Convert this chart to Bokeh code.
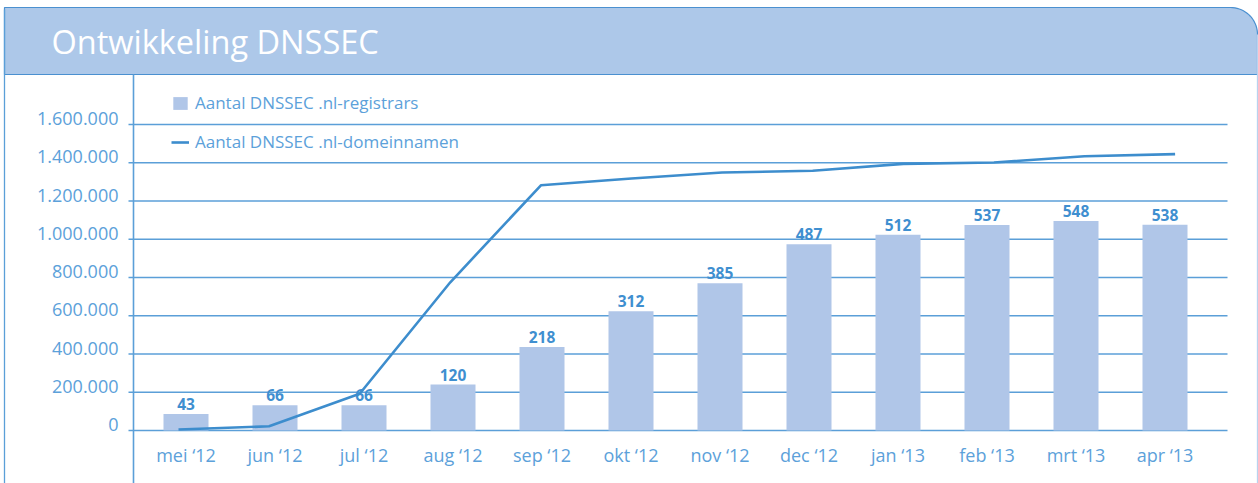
import numpy as np
from bokeh.plotting import figure
from bokeh.models import Range1d, ColumnDataSource, Legend, LegendItem
from bokeh.core.properties import value
from bokeh.embed import file_html
from bokeh.resources import INLINE

# ---------------- data ----------------
title = "Ontwikkeling DNSSEC"
months = ["mei \u201812", "jun \u201812", "jul \u201812", "aug \u201812", "sep \u201812", "okt \u201812",
          "nov \u201812", "dec \u201812", "jan \u201813", "feb \u201813", "mrt \u201813", "apr \u201813"]
registrars = [43, 66, 66, 120, 218, 312, 385, 487, 512, 537, 548, 538]
domeinnamen = [5000, 22000, 192000, 775000, 1282000, 1318000, 1349000, 1358000,
               1394000, 1401000, 1434000, 1445000]
y_ticks = [0, 200000, 400000, 600000, 800000, 1000000, 1200000, 1400000, 1600000]
y_tick_labels = ["0", "200.000", "400.000", "600.000", "800.000", "1.000.000",
                 "1.200.000", "1.400.000", "1.600.000"]
legend_labels = ["Aantal DNSSEC .nl-registrars", "Aantal DNSSEC .nl-domeinnamen"]
bar_scale = 2000  # registrars drawn at this factor of the domain-name axis

# ---------------- layout (pixels) ----------------
W, H = 1258, 483
Y0_PX, YMAX_PX = 430, 124
BAR_C0, BAR_STEP, BAR_W = 185.5, 89.0, 45.0
LINE_C0, LINE_STEP = 178.0, 90.6
GRID_X0, GRID_X1 = 128, 1227
AXIS_X = 133
BOX_L, BOX_R, BOX_T, HEAD_B, R = 4, 1257, 7, 74, 27

TEXT = "#5ca1da"
DARK = "#3f8fd0"
BAR = "#b0c6e8"
HEAD = "#adc8e9"
LINE = "#3d8dcd"
GRID = "#5b9fd8"
FONT = "Open Sans"

k = y_ticks[-1] / (Y0_PX - YMAX_PX)
y_lo, y_hi = -(H - Y0_PX) * k, Y0_PX * k

p = figure(width=W, height=H, output_backend="svg", toolbar_location=None,
           x_axis_type=None, y_axis_type=None, min_border=0,
           x_range=Range1d(-BAR_C0 / BAR_STEP, (W - BAR_C0) / BAR_STEP),
           y_range=Range1d(y_lo, y_hi))
p.outline_line_color = None
p.xgrid.visible = False
p.ygrid.visible = False
p.background_fill_color = "white"
p.border_fill_color = "white"
p.extra_x_ranges = {"px": Range1d(0, W),
                    "line": Range1d(-LINE_C0 / LINE_STEP, (W - LINE_C0) / LINE_STEP)}
p.extra_y_ranges = {"px": Range1d(H, 0),
                    "reg": Range1d(y_lo / bar_scale, y_hi / bar_scale)}

# header with rounded top-right corner
t = np.linspace(np.pi / 2, 0, 20)
hx = [BOX_L] + list(BOX_R - R + R * np.cos(t)) + [BOX_R, BOX_L]
hy = [BOX_T] + list(BOX_T + R - R * np.sin(t)) + [HEAD_B, HEAD_B]
p.patch(hx, hy, x_range_name="px", y_range_name="px",
        fill_color=HEAD, line_color="#4a90d0", line_width=1.2)
p.text(x=[51], y=[41], text=[title], x_range_name="px", y_range_name="px",
       text_font=value(FONT), text_font_size="32.5px", text_color="white",
       text_baseline="middle", text_align="left")

# frame lines
p.segment(x0=[BOX_L, BOX_R, AXIS_X], y0=[BOX_T + 2, BOX_T + R, HEAD_B],
          x1=[BOX_L, BOX_R, AXIS_X], y1=[H, H, H],
          x_range_name="px", y_range_name="px",
          line_color=[GRID, "#b9d3ee", GRID], line_width=[1.3, 1.3, 1.6])

# gridlines
p.segment(x0=[GRID_X0] * len(y_ticks), x1=[GRID_X1] * len(y_ticks), y0=y_ticks, y1=y_ticks,
          x_range_name="px", line_color=GRID, line_width=1.6)

# y tick labels
p.text(x=[118] * len(y_ticks), y=y_ticks, text=y_tick_labels, x_range_name="px",
       text_font=value(FONT), text_font_size="18px", text_color=TEXT,
       text_align="right", text_baseline="middle", y_offset=-6)

# bars
idx = list(range(len(months)))
src = ColumnDataSource(dict(x=idx, reg=registrars, lbl=[str(v) for v in registrars],
                            month=months))
bars = p.vbar(x="x", top="reg", bottom=0, width=BAR_W / BAR_STEP, source=src,
              y_range_name="reg", fill_color=BAR, line_color=None)
p.text(x="x", y="reg", text="lbl", source=src, y_range_name="reg",
       text_font=value(FONT), text_font_style="bold", text_font_size="15.5px",
       text_color=DARK, text_align="center", text_baseline="middle", y_offset=-10)

# category labels
p.text(x="x", y=0, text="month", source=src, y_range_name="reg",
       text_font=value(FONT), text_font_size="18px", text_color=TEXT,
       text_align="center", text_baseline="middle", y_offset=24)

# line
lsrc = ColumnDataSource(dict(x=idx, dom=domeinnamen))
line = p.line(x="x", y="dom", source=lsrc, x_range_name="line",
              line_color=LINE, line_width=2.6)

legend = Legend(items=[LegendItem(label=legend_labels[0], renderers=[bars]),
                       LegendItem(label=legend_labels[1], renderers=[line])],
                location=(171, 330), orientation="vertical",
                glyph_width=18, glyph_height=16, label_height=20, spacing=16,
                label_standoff=6, padding=0, margin=0,
                border_line_color=None, background_fill_alpha=0,
                label_text_font=FONT, label_text_font_size="17px",
                label_text_color=TEXT)
p.add_layout(legend, "center")

open("out.html", "w").write(file_html(p, INLINE))
